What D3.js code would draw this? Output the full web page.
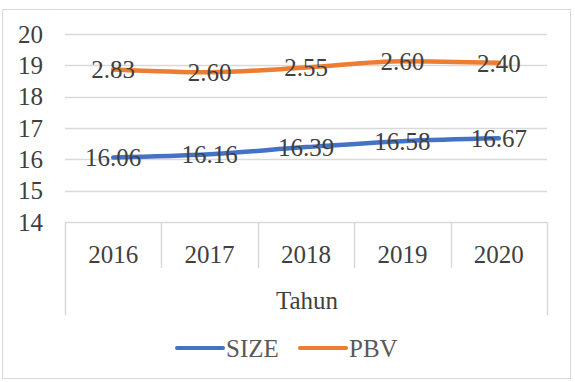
<!DOCTYPE html>
<html>
<head>
<meta charset="utf-8">
<script src="https://cdn.jsdelivr.net/npm/d3@7"></script>
</head>
<body style="margin:0">
<script>
// data
var years = ["2016", "2017", "2018", "2019", "2020"];
var sizeValues = [16.06, 16.16, 16.39, 16.58, 16.67];
var sizeLabels = ["16.06", "16.16", "16.39", "16.58", "16.67"];
// PBV is drawn near the top of the axis but labelled with its own values
var pbvValues = [18.87, 18.78, 18.93, 19.13, 19.08];
var pbvLabels = ["2.83", "2.60", "2.55", "2.60", "2.40"];
var yTicks = [14, 15, 16, 17, 18, 19, 20];

var width = 575,
    height = 382,
    fontSize = 25,
    font = "Liberation Serif";

var svg = d3.select("body").append("svg")
    .attr("width", width)
    .attr("height", height);

svg.append("rect")
    .attr("x", 2.5).attr("y", 9.5)
    .attr("width", 568).attr("height", 369)
    .attr("fill", "#fff")
    .attr("stroke", "#d9d9d9");

var x = d3.scaleBand().domain(years).range([65, 547]);
var y = d3.scaleLinear().domain([14, 20]).range([222, 34]);

function label(sel) {
    sel.attr("font-family", font)
        .style("font-family", font)
        .attr("font-size", fontSize)
        .attr("dy", "0.35em");
}

// gridlines
svg.append("g").selectAll("line")
    .data(yTicks)
  .enter().append("line")
    .attr("x1", 65).attr("x2", 547)
    .attr("y1", function(d) { return Math.round(y(d)) + 0.5; })
    .attr("y2", function(d) { return Math.round(y(d)) + 0.5; })
    .attr("stroke", "#d9d9d9")
    .attr("stroke-width", 1.5);

// y labels
svg.append("g").selectAll("text")
    .data(yTicks)
  .enter().append("text")
    .attr("x", 43)
    .attr("y", function(d) { return y(d); })
    .attr("text-anchor", "end")
    .attr("fill", "#404040")
    .call(label)
    .text(function(d) { return d; });

// category separators
var bounds = years.map(function(d) { return x(d); }).concat([x.range()[1]]);
svg.append("g").selectAll("line")
    .data(bounds)
  .enter().append("line")
    .attr("x1", function(d) { return Math.round(d) + 0.5; })
    .attr("x2", function(d) { return Math.round(d) + 0.5; })
    .attr("y1", 222)
    .attr("y2", function(d, i) { return (i == 0 || i == bounds.length - 1) ? 315 : 268; })
    .attr("stroke", "#d9d9d9")
    .attr("stroke-width", 1.5);

// year labels
svg.append("g").selectAll("text")
    .data(years)
  .enter().append("text")
    .attr("x", function(d) { return x(d) + x.bandwidth() / 2; })
    .attr("y", 254)
    .attr("text-anchor", "middle")
    .attr("fill", "#404040")
    .call(label)
    .text(function(d) { return d; });

svg.append("text")
    .attr("x", 307)
    .attr("y", 300)
    .attr("text-anchor", "middle")
    .attr("fill", "#404040")
    .call(label)
    .text("Tahun");

var line = d3.line()
    .x(function(d, i) { return x(years[i]) + x.bandwidth() / 2; })
    .y(function(d) { return y(d); })
    .curve(d3.curveMonotoneX);

var series = [
    { name: "SIZE", values: sizeValues, labels: sizeLabels, color: "#4472c4" },
    { name: "PBV", values: pbvValues, labels: pbvLabels, color: "#ed7d31" }
];

series.forEach(function(s) {
    svg.append("path")
        .attr("d", line(s.values))
        .attr("fill", "none")
        .attr("stroke", s.color)
        .attr("stroke-width", 4.5)
        .attr("stroke-linecap", "round");
});

series.forEach(function(s) {
    svg.append("g").selectAll("text")
        .data(s.values)
      .enter().append("text")
        .attr("x", function(d, i) { return x(years[i]) + x.bandwidth() / 2; })
        .attr("y", function(d) { return y(d); })
        .attr("text-anchor", "middle")
        .attr("fill", "#404040")
        .call(label)
        .text(function(d, i) { return s.labels[i]; });
});

// legend
var legend = [
    { name: "SIZE", color: "#4472c4", x: 177 },
    { name: "PBV", color: "#ed7d31", x: 300 }
];
var lg = svg.append("g").selectAll("g")
    .data(legend)
  .enter().append("g")
    .attr("transform", function(d) { return "translate(" + d.x + ",348)"; });
lg.append("line")
    .attr("x1", 0).attr("x2", 46)
    .attr("stroke", function(d) { return d.color; })
    .attr("stroke-width", 4)
    .attr("stroke-linecap", "round");
lg.append("text")
    .attr("x", 49)
    .attr("fill", "#595959")
    .call(label)
    .text(function(d) { return d.name; });
</script>
</body>
</html>
